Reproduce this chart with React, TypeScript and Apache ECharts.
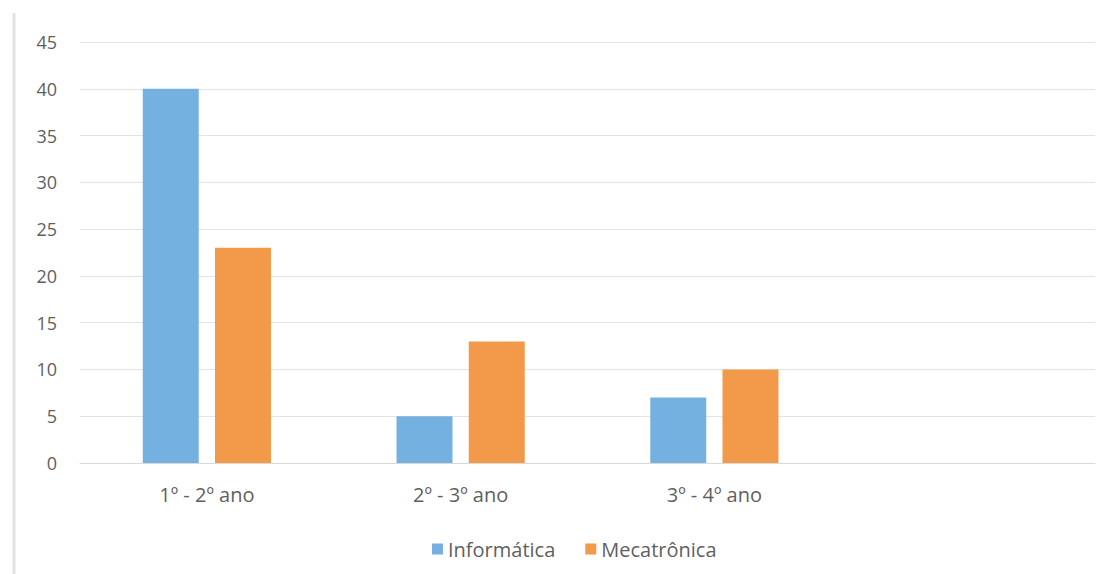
import React, { useEffect, useRef } from "react";
import * as echarts from "echarts";

const categories = ["1º - 2º ano", "2º - 3º ano", "3º - 4º ano", ""];
const informatica = [40, 5, 7, null];
const mecatronica = [23, 13, 10, null];
const yTicks = { min: 0, max: 45, interval: 5 };

export default function App() {
  const ref = useRef<HTMLDivElement>(null);
  useEffect(() => {
    if (!ref.current) return;
    const chart = echarts.init(ref.current, undefined, { renderer: "svg" });
    const textColor = "#5f5f5f";
    const font = "Open Sans";
    chart.setOption({
      animation: false,
      backgroundColor: "#ffffff",
      grid: { left: 80, right: 16, top: 42, bottom: 111, containLabel: false },
      legend: {
        bottom: 10,
        left: 427,
        itemWidth: 11,
        itemHeight: 11,
        itemGap: 30,
        icon: "rect",
        textStyle: { color: textColor, fontSize: 20, fontFamily: font },
        data: ["Informática", "Mecatrônica"],
      },
      xAxis: {
        type: "category",
        data: categories,
        axisLine: { show: true, lineStyle: { color: "#d9d9d9", width: 1 } },
        axisTick: { show: false },
        axisLabel: { color: textColor, fontSize: 20, fontFamily: font, margin: 21 },
      },
      yAxis: {
        type: "value",
        min: yTicks.min,
        max: yTicks.max,
        interval: yTicks.interval,
        axisLine: { show: false },
        axisTick: { show: false },
        splitLine: { lineStyle: { color: "#e3e3e3", width: 1 } },
        axisLabel: { color: textColor, fontSize: 18, fontFamily: font, margin: 23 },
      },
      graphic: [
        {
          type: "line",
          shape: { x1: 14, y1: 13, x2: 14, y2: 574 },
          style: { stroke: "#e2e2e2", lineWidth: 3 },
        },
      ],
      series: [
        {
          name: "Informática",
          type: "bar",
          data: informatica,
          barWidth: 56,
          barGap: "29%",
          itemStyle: { color: "#75b1e0" },
        },
        {
          name: "Mecatrônica",
          type: "bar",
          data: mecatronica,
          barWidth: 56,
          itemStyle: { color: "#f3994a" },
        },
      ],
    });
    return () => chart.dispose();
  }, []);
  return (
    <div
      ref={ref}
      style={{ position: "fixed", left: 0, top: 0, width: 1111, height: 574 }}
    />
  );
}
